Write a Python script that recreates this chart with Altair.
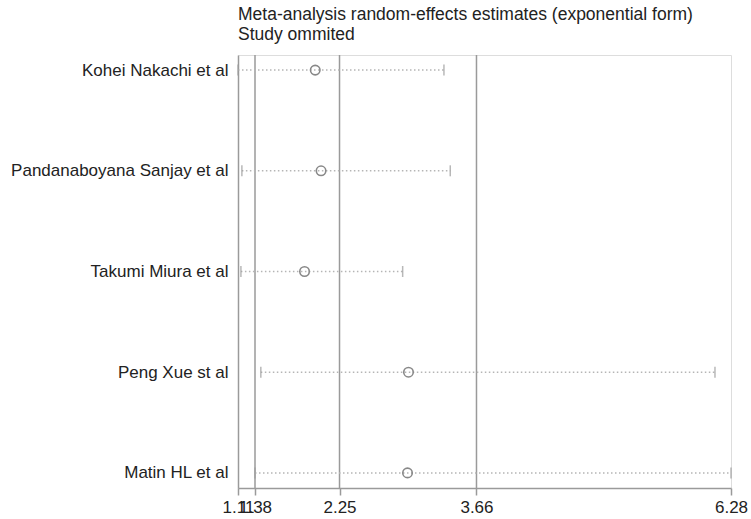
import altair as alt
import pandas as pd

# Study omitted and the resulting estimate with its confidence interval
studies = [
    "Kohei Nakachi et al",
    "Pandanaboyana Sanjay et al",
    "Takumi Miura et al",
    "Peng Xue st al",
    "Matin HL et al",
]
estimates = [2.00, 2.06, 1.89, 2.96, 2.95]
lower_ci = [1.205, 1.245, 1.235, 1.44, 1.38]
upper_ci = [3.325, 3.39, 2.90, 6.115, 6.28]

# Overall estimate reference lines (lower CI, estimate, upper CI)
ref_values = [1.38, 2.25, 3.66]

# Axis ticks and the labels Stata printed at them
tick_values = [1.205, 1.38, 2.25, 3.66, 6.28]
tick_labels = ["1.11", "1.38", "2.25", "3.66", "6.28"]

title_lines = ["Meta-analysis random-effects estimates (exponential form)", "Study ommited"]

df = pd.DataFrame({"study": studies, "est": estimates, "lo": lower_ci, "hi": upper_ci})
refs = pd.DataFrame({"ref": ref_values})

FONT = "Liberation Sans"
GRAY = "#9a9a9a"

label_expr = ""
for v, l in zip(tick_values, tick_labels):
    label_expr += f"abs(datum.value - {v}) < 0.001 ? '{l}' : "
label_expr += "''"

xscale = alt.Scale(domain=[tick_values[0], tick_values[-1]], nice=False, zero=False)
yscale = alt.Scale(type="point", domain=studies, padding=0.15)

xaxis = alt.Axis(
    values=tick_values, labelExpr=label_expr, title=None, grid=False,
    domainColor=GRAY, domainWidth=1.5, tickColor=GRAY, tickWidth=1.5, tickSize=7,
    labelFont=FONT, labelFontSize=17, labelColor="#222", labelPadding=4,
    labelOverlap=False, labelFlush=False,
)
yaxis = alt.Axis(
    title=None, ticks=False, grid=False, domainColor=GRAY, domainWidth=1.5,
    labelFont=FONT, labelFontSize=17, labelColor="#222", labelPadding=10, labelLimit=400,
)

base = alt.Chart(df)
Y = alt.Y("study:N", scale=yscale, axis=yaxis, sort=studies)

refs_layer = alt.Chart(refs).mark_rule(color=GRAY, strokeWidth=1.5).encode(
    x=alt.X("ref:Q", scale=xscale, axis=xaxis)
)

ci = base.mark_rule(color="#b5b5b5", strokeWidth=1.5, strokeDash=[1.5, 2.5]).encode(
    x=alt.X("lo:Q", scale=xscale, axis=xaxis),
    x2="hi:Q",
    y=Y,
)

cap_lo = base.mark_tick(color=GRAY, thickness=1.5, size=11).encode(
    x=alt.X("lo:Q", scale=xscale, axis=xaxis),
    y=Y,
)
cap_hi = base.mark_tick(color=GRAY, thickness=1.5, size=11).encode(
    x=alt.X("hi:Q", scale=xscale, axis=xaxis),
    y=Y,
)

pts = base.mark_point(shape="circle", filled=False, color="#888888", size=90, strokeWidth=1.6, opacity=1).encode(
    x=alt.X("est:Q", scale=xscale, axis=xaxis),
    y=Y,
)

chart = alt.layer(refs_layer, ci, cap_lo, cap_hi, pts).properties(
    width=493,
    height=433,
    autosize="none",
    padding={"left": 238, "top": 55, "right": 20, "bottom": 31},
    title=alt.TitleParams(
        text=title_lines, anchor="start", frame="group", font=FONT, fontSize=17.5,
        fontWeight="normal", color="#222", lineHeight=20, offset=11,
    ),
).configure_view(stroke=None).configure(background="white")

chart.save("out.html", embed_options={"renderer": "svg", "actions": False})
